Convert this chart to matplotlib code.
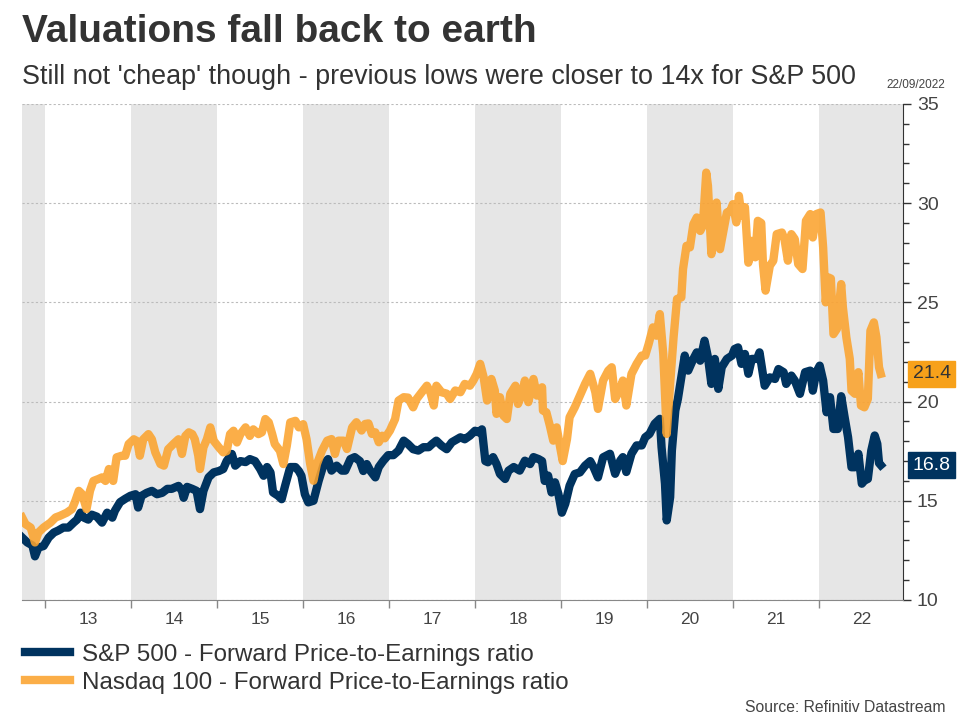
import matplotlib
matplotlib.use("Agg")
import matplotlib.pyplot as plt
from matplotlib.ticker import FixedLocator, MultipleLocator, NullFormatter
import matplotlib.transforms as mtransforms

plt.rcParams['font.family'] = ['Liberation Sans', 'DejaVu Sans']

# weekly-ish readings, x in decimal years
sp_t = [2012.73, 2012.79, 2012.85, 2012.88, 2012.92, 2012.98, 2013.04, 2013.10, 2013.15, 2013.21,
        2013.27, 2013.33, 2013.37, 2013.41, 2013.45, 2013.50, 2013.54, 2013.60, 2013.66, 2013.72,
        2013.78, 2013.81, 2013.87, 2013.93, 2013.99, 2014.05, 2014.08, 2014.12, 2014.18, 2014.24,
        2014.30, 2014.36, 2014.42, 2014.47, 2014.55, 2014.59, 2014.61, 2014.65, 2014.71, 2014.76,
        2014.80, 2014.84, 2014.90, 2014.96, 2015.02, 2015.07, 2015.11, 2015.17, 2015.21, 2015.27,
        2015.33, 2015.38, 2015.44, 2015.50, 2015.54, 2015.58, 2015.62, 2015.65, 2015.71, 2015.75,
        2015.79, 2015.85, 2015.91, 2015.95, 2015.98, 2016.02, 2016.06, 2016.12, 2016.18, 2016.24,
        2016.29, 2016.33, 2016.39, 2016.45, 2016.49, 2016.55, 2016.60, 2016.66, 2016.70, 2016.74,
        2016.78, 2016.84, 2016.88, 2016.93, 2016.99, 2017.05, 2017.11, 2017.17, 2017.22, 2017.28,
        2017.34, 2017.40, 2017.46, 2017.50, 2017.55, 2017.61, 2017.67, 2017.73, 2017.79, 2017.83,
        2017.88, 2017.94, 2018.00, 2018.04, 2018.08, 2018.12, 2018.15, 2018.21, 2018.25, 2018.29,
        2018.35, 2018.39, 2018.45, 2018.49, 2018.52, 2018.58, 2018.64, 2018.68, 2018.74, 2018.78,
        2018.81, 2018.85, 2018.89, 2018.93, 2018.97, 2019.01, 2019.05, 2019.10, 2019.16, 2019.22,
        2019.28, 2019.34, 2019.38, 2019.43, 2019.49, 2019.57, 2019.63, 2019.69, 2019.72, 2019.76,
        2019.82, 2019.88, 2019.94, 2019.98, 2020.03, 2020.09, 2020.15, 2020.17, 2020.21, 2020.23,
        2020.27, 2020.29, 2020.33, 2020.36, 2020.40, 2020.44, 2020.48, 2020.54, 2020.58, 2020.62,
        2020.67, 2020.71, 2020.75, 2020.79, 2020.83, 2020.87, 2020.93, 2020.99, 2021.02, 2021.06,
        2021.10, 2021.14, 2021.18, 2021.22, 2021.28, 2021.31, 2021.37, 2021.43, 2021.49, 2021.53,
        2021.59, 2021.62, 2021.68, 2021.72, 2021.78, 2021.84, 2021.90, 2021.93, 2021.97, 2022.01,
        2022.05, 2022.09, 2022.13, 2022.17, 2022.22, 2022.26, 2022.30, 2022.34, 2022.38, 2022.42,
        2022.46, 2022.50, 2022.53, 2022.57, 2022.61, 2022.65, 2022.68, 2022.70, 2022.72]
sp_pe = [13.15, 12.9, 12.75, 12.2, 12.64, 12.72, 13.15, 13.4, 13.5, 13.65,
         13.65, 13.9, 14.05, 14.4, 14.15, 14.05, 14.3, 14.2, 13.9, 14.4,
         14.15, 14.5, 14.93, 15.1, 15.25, 15.33, 14.66, 15.25, 15.4, 15.5,
         15.33, 15.4, 15.6, 15.6, 15.75, 15.5, 15.15, 15.7, 15.6, 15.5,
         14.58, 15.5, 16.18, 16.43, 16.5, 16.6, 17.0, 17.36, 16.77, 17.0,
         16.95, 17.1, 17.0, 16.6, 16.26, 16.7, 16.43, 15.42, 15.25, 15.08,
         15.75, 16.7, 16.7, 16.5, 16.26, 15.33, 14.92, 15.0, 16.0, 16.85,
         17.1, 16.52, 16.77, 16.52, 16.52, 17.1, 17.2, 17.0, 16.5, 16.85,
         16.52, 16.18, 16.7, 17.0, 17.3, 17.3, 17.53, 18.03, 17.86, 17.6,
         17.53, 17.7, 17.7, 17.86, 18.03, 17.78, 17.6, 17.95, 18.1, 18.2,
         18.1, 18.28, 18.53, 18.45, 18.6, 17.0, 16.94, 17.2, 16.85, 16.35,
         16.1, 16.52, 16.7, 16.6, 16.52, 17.02, 16.85, 17.2, 17.1, 17.0,
         16.0, 16.27, 15.42, 15.93, 15.34, 14.4, 14.85, 15.76, 16.35, 16.43,
         16.77, 17.0, 16.68, 16.18, 17.19, 17.37, 16.36, 17.03, 17.2, 16.45,
         17.37, 17.79, 17.79, 18.2, 18.37, 18.88, 19.13, 17.7, 15.86, 14.01,
         15.18, 17.53, 19.55, 20.13, 21.23, 22.32, 21.56, 22.15, 22.48, 22.06,
         23.07, 22.23, 20.89, 22.15, 20.64, 21.73, 22.15, 22.32, 22.65, 22.73,
         21.9, 22.4, 21.4, 22.15, 22.15, 22.48, 20.8, 21.22, 21.14, 21.64,
         21.48, 20.89, 21.31, 21.06, 20.39, 21.48, 21.56, 20.55, 21.48, 21.81,
         21.06, 19.46, 20.22, 18.62, 18.62, 20.27, 19.21, 18.2, 16.69, 16.69,
         17.37, 15.86, 16.02, 16.1, 17.53, 18.29, 17.87, 16.9, 16.8]

nq_t = [2012.73, 2012.77, 2012.83, 2012.88, 2012.92, 2012.98, 2013.06, 2013.12, 2013.17, 2013.25,
        2013.31, 2013.35, 2013.39, 2013.43, 2013.48, 2013.52, 2013.56, 2013.62, 2013.66, 2013.70,
        2013.74, 2013.79, 2013.83, 2013.89, 2013.93, 2013.97, 2014.03, 2014.07, 2014.10, 2014.14,
        2014.20, 2014.24, 2014.28, 2014.34, 2014.38, 2014.43, 2014.49, 2014.55, 2014.59, 2014.63,
        2014.67, 2014.71, 2014.74, 2014.78, 2014.80, 2014.84, 2014.88, 2014.92, 2014.96, 2015.02,
        2015.07, 2015.11, 2015.15, 2015.19, 2015.23, 2015.27, 2015.33, 2015.38, 2015.42, 2015.48,
        2015.52, 2015.56, 2015.60, 2015.64, 2015.67, 2015.73, 2015.77, 2015.81, 2015.85, 2015.91,
        2015.95, 2016.00, 2016.04, 2016.08, 2016.12, 2016.16, 2016.22, 2016.28, 2016.33, 2016.37,
        2016.41, 2016.47, 2016.51, 2016.57, 2016.62, 2016.68, 2016.72, 2016.76, 2016.80, 2016.84,
        2016.88, 2016.92, 2016.95, 2017.01, 2017.07, 2017.11, 2017.17, 2017.22, 2017.28, 2017.32,
        2017.38, 2017.44, 2017.48, 2017.52, 2017.55, 2017.61, 2017.67, 2017.71, 2017.77, 2017.83,
        2017.88, 2017.94, 2017.98, 2018.02, 2018.06, 2018.10, 2018.14, 2018.19, 2018.23, 2018.25,
        2018.29, 2018.33, 2018.37, 2018.41, 2018.47, 2018.50, 2018.54, 2018.58, 2018.62, 2018.68,
        2018.72, 2018.78, 2018.79, 2018.83, 2018.87, 2018.91, 2018.95, 2018.99, 2019.02, 2019.07,
        2019.10, 2019.16, 2019.22, 2019.28, 2019.34, 2019.40, 2019.43, 2019.49, 2019.55, 2019.59,
        2019.63, 2019.69, 2019.72, 2019.76, 2019.82, 2019.88, 2019.94, 2019.98, 2020.02, 2020.07,
        2020.11, 2020.15, 2020.19, 2020.23, 2020.27, 2020.31, 2020.35, 2020.40, 2020.42, 2020.46,
        2020.50, 2020.54, 2020.58, 2020.62, 2020.65, 2020.69, 2020.71, 2020.75, 2020.79, 2020.81,
        2020.85, 2020.89, 2020.93, 2020.97, 2021.00, 2021.04, 2021.07, 2021.10, 2021.14, 2021.18,
        2021.22, 2021.26, 2021.29, 2021.33, 2021.35, 2021.38, 2021.43, 2021.47, 2021.51, 2021.57,
        2021.60, 2021.64, 2021.68, 2021.72, 2021.76, 2021.81, 2021.85, 2021.90, 2021.93, 2021.97,
        2022.02, 2022.05, 2022.08, 2022.11, 2022.14, 2022.17, 2022.21, 2022.26, 2022.28, 2022.32,
        2022.36, 2022.38, 2022.42, 2022.46, 2022.49, 2022.53, 2022.57, 2022.60, 2022.64, 2022.67,
        2022.70, 2022.72]
nq_pe = [14.16, 13.82, 13.65, 12.9, 13.4, 13.65, 13.9, 14.16, 14.24, 14.4,
         14.58, 15.0, 15.5, 15.33, 14.58, 15.5, 16.0, 16.1, 16.18, 16.0,
         16.6, 16.0, 17.19, 17.27, 17.27, 17.86, 18.1, 18.0, 17.27, 18.1,
         18.36, 18.1, 17.44, 16.85, 16.77, 17.6, 17.86, 18.1, 17.36, 18.27,
         18.45, 18.36, 18.1, 17.27, 16.6, 17.69, 18.1, 18.7, 18.02, 17.69,
         17.44, 17.5, 18.36, 18.53, 17.94, 18.36, 18.7, 18.27, 18.6, 18.36,
         18.45, 19.12, 18.95, 18.36, 17.86, 17.52, 16.85, 17.77, 18.95, 19.03,
         18.7, 18.86, 18.1, 16.9, 16.01, 16.85, 17.53, 18.03, 18.11, 17.36,
         18.03, 18.03, 17.61, 18.7, 18.96, 18.54, 18.87, 18.9, 18.37, 18.45,
         17.95, 18.28, 18.15, 18.54, 19.12, 20.05, 20.22, 20.2, 19.71, 20.13,
         20.47, 20.8, 20.47, 19.8, 20.8, 20.47, 20.4, 20.13, 20.56, 20.47,
         20.89, 20.8, 21.06, 21.4, 21.9, 21.23, 20.05, 21.14, 20.56, 19.38,
         20.22, 19.29, 19.12, 20.39, 20.8, 19.88, 20.3, 21.06, 19.97, 21.14,
         20.3, 20.72, 19.55, 19.46, 18.79, 18.03, 18.7, 17.7, 17.0, 18.11,
         19.21, 19.71, 20.3, 20.89, 21.4, 20.47, 19.63, 21.06, 21.56, 21.73,
         20.13, 20.64, 21.06, 19.8, 21.39, 21.9, 22.32, 22.32, 22.9, 23.74,
         23.32, 24.41, 22.4, 18.37, 20.89, 23.24, 25.17, 25.25, 26.68, 27.85,
         27.77, 28.94, 29.28, 28.6, 28.86, 31.54, 30.87, 27.43, 28.78, 30.03,
         27.68, 28.6, 29.53, 29.61, 29.95, 29.03, 30.37, 29.36, 29.8, 27.0,
         28.1, 27.27, 29.11, 29.0, 26.93, 25.59, 26.85, 27.1, 28.44, 28.52,
         28.19, 27.1, 28.44, 28.19, 26.93, 26.68, 29.11, 29.45, 28.27, 29.45,
         29.53, 27.77, 25.0, 26.26, 26.2, 23.4, 23.66, 25.92, 24.75, 23.24,
         22.15, 20.55, 20.39, 21.48, 19.8, 19.71, 20.13, 23.57, 23.99, 23.24,
         21.73, 21.4]

shaded_years = [2012, 2014, 2016, 2018, 2020, 2022]
year_labels = ['13', '14', '15', '16', '17', '18', '19', '20', '21', '22']

navy = '#00335F'
orange = '#FBA32E'

fig = plt.figure(figsize=(9.6, 7.2), dpi=100)
ax = fig.add_axes([0.023, 0.1667, 0.9177, 0.6889])

x0, x1 = 2012.73, 2022.98
for yr in shaded_years:
    ax.axvspan(max(yr, x0), min(yr + 1, x1), color='#E6E6E6', lw=0, zorder=0)

ax.plot(sp_t, sp_pe, color=navy, lw=6, solid_joinstyle='round', zorder=3,
        label='S&P 500 - Forward Price-to-Earnings ratio')
ax.plot(nq_t, nq_pe, color=orange, lw=6, alpha=0.88, solid_joinstyle='round', zorder=4,
        label='Nasdaq 100 - Forward Price-to-Earnings ratio')

ax.set_xlim(x0, x1)
ax.set_ylim(10, 35)

# y axis on the right
ax.yaxis.tick_right()
ax.yaxis.set_major_locator(MultipleLocator(5))
ax.yaxis.set_minor_locator(MultipleLocator(1))
ax.tick_params(axis='y', which='major', length=6, width=1, color='#333333',
               labelsize=14, labelcolor='#444444', pad=4)
ax.tick_params(axis='y', which='minor', length=4, width=1, color='#333333')
ax.grid(axis='y', which='major', linestyle=(0, (2, 2)), color='#BBBBBB', lw=0.8, zorder=1)

# x axis: ticks on year boundaries, labels in the middle of the year
boundaries = list(range(2013, 2023))
centres = [b + 0.5 for b in boundaries]
ax.xaxis.set_major_locator(FixedLocator(boundaries))
ax.xaxis.set_major_formatter(NullFormatter())
ax.xaxis.set_minor_locator(FixedLocator(centres))
ax.set_xticklabels(year_labels, minor=True)
ax.tick_params(axis='x', which='major', length=6, width=1, color='#888888')
ax.tick_params(axis='x', which='minor', length=0, labelsize=12.5, labelcolor='#444444', pad=9)

for s in ['left', 'top']:
    ax.spines[s].set_visible(False)
ax.spines['right'].set_color('#333333')
ax.spines['bottom'].set_color('#888888')

# last value tags
tr = mtransforms.blended_transform_factory(ax.transAxes, ax.transData)
ax.text(1.011, nq_pe[-1], f'{nq_pe[-1]:.1f}', transform=tr, ha='left', va='center',
        fontsize=14, color='#333333', zorder=6, clip_on=False,
        bbox=dict(boxstyle='square,pad=0.22', fc='#F7A11A', ec='#F7A11A'))
ax.text(1.011, sp_pe[-1], f'{sp_pe[-1]:.1f}', transform=tr, ha='left', va='center',
        fontsize=14, color='white', zorder=6, clip_on=False,
        bbox=dict(boxstyle='square,pad=0.22', fc=navy, ec=navy))

fig.text(0.023, 0.955, 'Valuations fall back to earth', fontsize=28, fontweight='bold',
         color='#333333', ha='left', va='center')
fig.text(0.023, 0.893, "Still not 'cheap' though - previous lows were closer to 14x for S&P 500",
         fontsize=19.4, color='#333333', ha='left', va='center')
fig.text(0.985, 0.882, '22/09/2022', fontsize=8.5, color='#444444', ha='right', va='center')
fig.text(0.985, 0.017, 'Source: Refinitiv Datastream', fontsize=11.3, color='#444444',
         ha='right', va='center')

fig.legend(loc='upper left', bbox_to_anchor=(0.026, 0.106), frameon=False,
           fontsize=17.4, handlelength=1.85, handletextpad=0.5, labelspacing=0.25,
           labelcolor='#333333', borderpad=0, borderaxespad=0)

fig.savefig('out.png', dpi=100)
